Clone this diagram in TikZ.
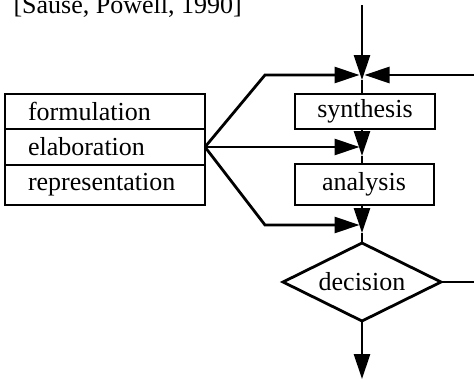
\documentclass[tikz,border=0pt]{standalone}
\usepackage{fontspec}
\setmainfont{Liberation Serif}
\usetikzlibrary{arrows.meta,shapes.geometric}
\begin{document}
\begin{tikzpicture}[x=1pt,y=-1pt,font=\fontsize{26}{30}\selectfont]
  \pgfmathsetmacro{\xc}{362}
  \tikzstyle{stage}=[draw, line width=2pt, inner sep=0pt, outer sep=0pt]
  \tikzstyle{phase}=[stage, text width=154pt, inner xsep=23pt, align=left]
  \tikzstyle{flow}=[color=black, line width=2.8pt, -{Triangle[length=25pt,width=16pt]}]
  \tikzstyle{side}=[flow, shorten >=2.5pt]
  \tikzstyle{link}=[color=black, line width=2.8pt]
  \useasboundingbox (0,0) rectangle (474,380);
  \node[anchor=base west] (T) at (10,13) {[Sause, Powell, 1990]};
  \node[phase, minimum height=35pt] (F) at (105,111.5) {formulation};
  \node[phase, minimum height=36pt] (E) at (105,147) {elaboration};
  \node[phase, minimum height=40pt] (R) at (105,185) {representation};
  \node[stage, minimum width=140pt, minimum height=35pt] (S) at (365,111.5) {synthesis};
  \node[stage, minimum width=139pt, minimum height=41pt] (A) at (364,184.5) {analysis};
  \node[stage, shape=diamond, line width=2.8pt, aspect=2.03, minimum width=158pt, minimum height=78pt] (D) at (\xc,282) {decision};
  % junctions and arrow tips on the main line
  \coordinate (Jtop) at (\xc,75);
  \coordinate (Vtop) at (\xc,80);
  \coordinate (Jmid) at (\xc,147);
  \coordinate (Vmid) at (\xc,156);
  \coordinate (Jlow) at (\xc,225);
  \coordinate (Vlow) at (\xc,233);
  \coordinate (In) at (\xc,5);
  \coordinate (Back) at (474,75);
  \coordinate (Out) at (474,282);
  \coordinate (End) at (\xc,379);
  \draw [flow] (In) -- (Vtop);
  \draw [side] (Back) -- (Jtop);
  \draw [side] (E.east) -- (265,75) -- (Jtop);
  \draw [link] (Vtop) -- (Vtop |- S.north);
  \draw [flow] (Vmid |- S.south) -- (Vmid);
  \draw [side] (E.east) -- (Jmid);
  \draw [link] (Vmid) -- (Vmid |- A.north);
  \draw [side] (E.east) -- (265,225) -- (Jlow);
  \draw [flow] (Vlow |- A.south) -- (Vlow);
  \draw [link] (Vlow) -- (D.north);
  \draw [link] (D.east) -- (Out);
  \draw [flow] (D.south) -- (End);
\end{tikzpicture}
\end{document}
